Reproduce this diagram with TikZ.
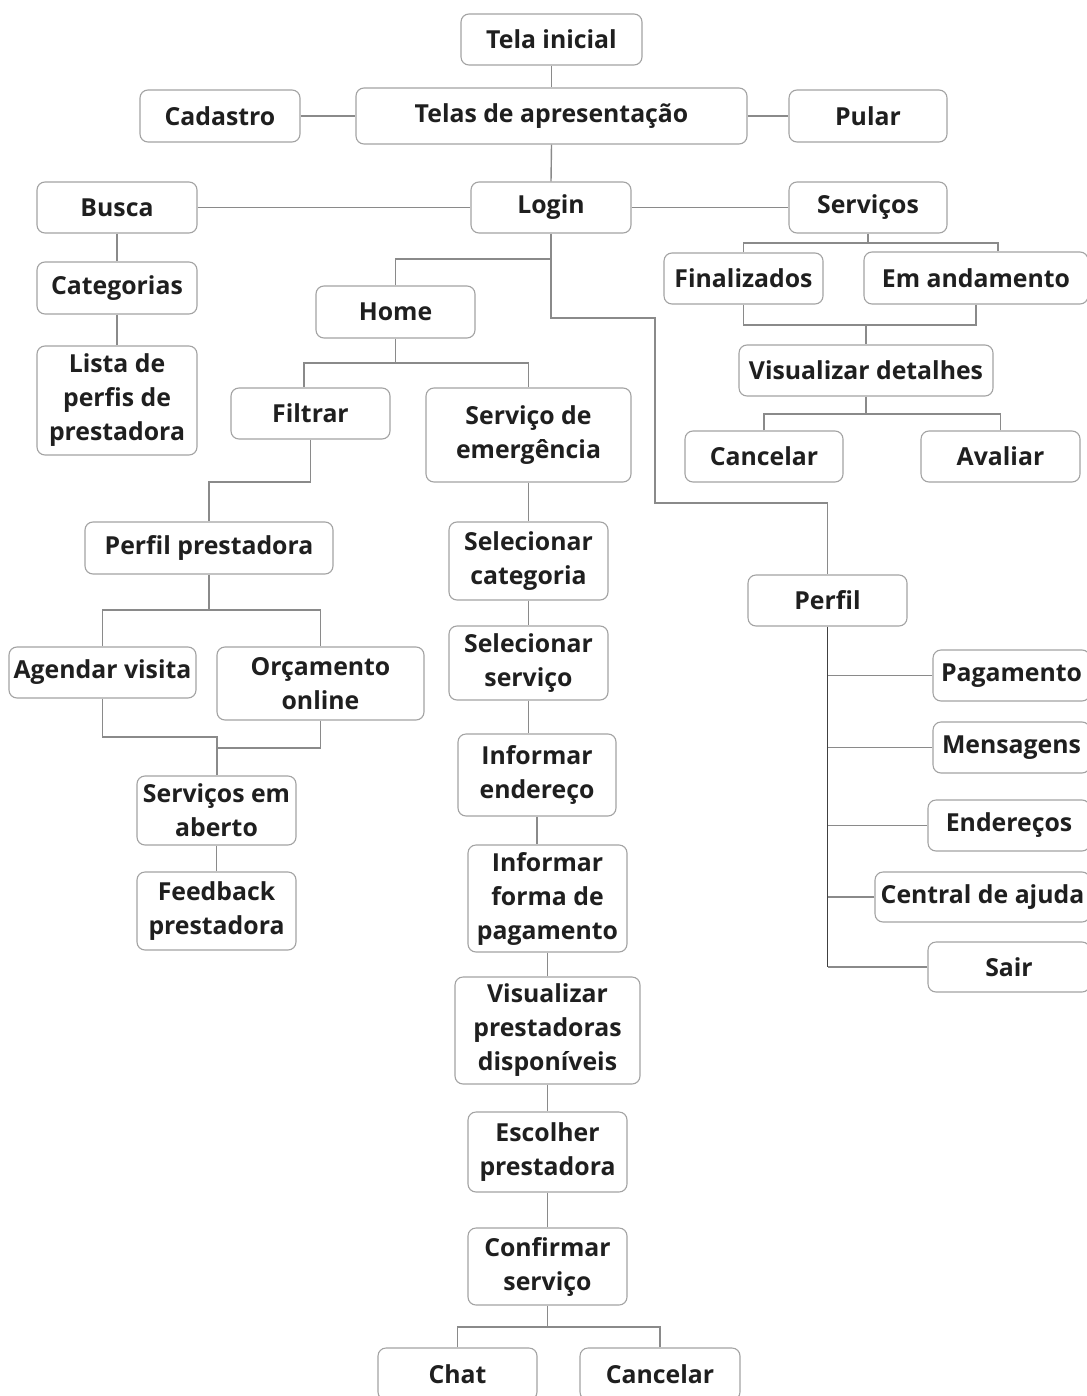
\documentclass[tikz,border=0pt]{standalone}
\usepackage{fontspec}
\setmainfont{Open Sans}
\definecolor{boxgray}{HTML}{A3A3A3}
\definecolor{linegray}{HTML}{8A8A8A}
\definecolor{txt}{HTML}{1F1F1F}
\tikzset{
  box/.style={draw=boxgray, line width=1.1pt, rounded corners=8pt, fill=white,
    align=center, inner sep=0pt, text=txt,
    font=\fontsize{24.8}{34}\selectfont\bfseries},
  conn/.style={draw=linegray, line width=1.4pt},
  darkconn/.style={draw=black!75, line width=1.4pt},
}
\newcommand\bx[6]{\node[box, minimum width=#4pt, minimum height=#5pt] (#1) at (#2,#3) {#6};}
\begin{document}
\begin{tikzpicture}[x=1pt,y=-1pt]
\useasboundingbox (0,0) rectangle (1086,1396);
\bx{tela}{551.5}{39.5}{181}{51}{Tela inicial}
\bx{cad}{220}{116}{160}{52}{Cadastro}
\bx{telas}{551.5}{116}{391}{56}{Telas de apresentação}
\bx{pular}{868}{116}{158}{52}{Pular}
\bx{busca}{117}{207.5}{160}{51}{Busca}
\bx{login}{551}{207.5}{160}{51}{Login}
\bx{servicos}{868}{207.5}{158}{51}{Serviços}
\bx{fin}{743.5}{278.5}{159}{51}{Finalizados}
\bx{anda}{976}{278}{224}{52}{Em andamento}
\bx{cat}{117}{288}{160}{52}{Categorias}
\bx{lista}{117}{400.5}{160}{109}{Lista de\\perfis de\\prestadora}
\bx{home}{395.5}{312}{159}{52}{Home}
\bx{filtrar}{310.5}{413.5}{159}{51}{Filtrar}
\bx{emerg}{528.5}{435}{205}{94}{Serviço de\\emergência}
\bx{visdet}{866}{370.5}{254}{51}{Visualizar detalhes}
\bx{cancelA}{764}{456.5}{158}{51}{Cancelar}
\bx{avaliar}{1000.5}{456.5}{159}{51}{Avaliar}
\bx{perfilp}{209}{548}{248}{52}{Perfil prestadora}
\bx{selcat}{528.5}{561}{159}{78}{Selecionar\\categoria}
\bx{selserv}{528.5}{663}{159}{74}{Selecionar\\serviço}
\bx{perfil}{827.5}{600.5}{159}{51}{Perfil}
\bx{agendar}{102.5}{672.5}{187}{51}{Agendar visita}
\bx{orc}{320.5}{683.5}{207}{73}{Orçamento\\online}
\bx{pag}{1011.5}{675.5}{157}{51}{Pagamento}
\bx{infend}{537}{775}{158}{82}{Informar\\endereço}
\bx{msg}{1011.5}{747.5}{157}{51}{Mensagens}
\bx{servab}{216.5}{810.5}{159}{69}{Serviços em\\aberto}
\bx{ends}{1009}{825.5}{162}{51}{Endereços}
\bx{infforma}{547.5}{898.5}{159}{107}{Informar\\forma de\\pagamento}
\bx{central}{982.5}{897}{215}{50}{Central de ajuda}
\bx{feedback}{216.5}{911}{159}{78}{Feedback\\prestadora}
\bx{sair}{1009}{967}{162}{50}{Sair}
\bx{vispres}{547.5}{1030.5}{185}{107}{Visualizar\\prestadoras\\disponíveis}
\bx{escolher}{547.5}{1152}{159}{80}{Escolher\\prestadora}
\bx{confirmar}{547.5}{1266.5}{159}{77}{Confirmar\\serviço}
\bx{chat}{457.5}{1374}{159}{52}{Chat}
\bx{cancelB}{660}{1374}{160}{52}{Cancelar}

% top
\draw[conn] (tela.south) -- (telas.north);
\draw[conn] (cad.east) -- (telas.west);
\draw[conn] (telas.east) -- (pular.west);
\draw[conn] (telas.south) -- (login.north);
\draw[conn] (busca.east) -- (login.west);
\draw[conn] (login.east) -- (servicos.west);
\draw[conn] (busca.south) -- (cat.north);
\draw[conn] (cat.south) -- (lista.north);
% servicos
\coordinate (j1) at (868,243);
\coordinate (j1r) at (998,243);
\draw[conn] (servicos.south) -- (j1);
\draw[conn] (fin.north) |- (j1);
\draw[conn] (j1) -- (j1r) -- (anda.north -| j1r);
\coordinate (j2) at (866,325);
\draw[conn] (fin.south) |- (j2);
\draw[conn] (anda.south) |- (j2);
\draw[conn] (j2) -- (visdet.north);
\coordinate (j3) at (866,414);
\draw[conn] (visdet.south) -- (j3);
\draw[conn] (cancelA.north) |- (j3);
\draw[conn] (avaliar.north) |- (j3);
% login down
\coordinate (j4) at (551,259);
\draw[conn] (login.south) -- (j4);
\draw[conn] (home.north) |- (j4);
\coordinate (p1) at (655,318);
\coordinate (p2) at (655,503);
\draw[conn] (j4) |- (p1) -- (p2) -| (perfil.north);
% home
\coordinate (j5) at (395.5,363);
\coordinate (fL) at (304,363);
\draw[conn] (home.south) -- (j5);
\draw[conn] (j5) -- (fL) -- (filtrar.north -| fL);
\draw[conn] (j5) -| (emerg.north);
% filtrar
\coordinate (j6) at (209,482);
\draw[conn] (filtrar.south) |- (j6) -- (perfilp.north);
\coordinate (j7) at (209,610);
\draw[conn] (perfilp.south) -- (j7);
\draw[conn] (agendar.north) |- (j7);
\draw[conn] (orc.north) |- (j7);
\coordinate (j8) at (217,737);
\coordinate (j9) at (217,748);
\draw[conn] (agendar.south) |- (j8) -- (servab.north -| j8);
\draw[conn] (orc.south) |- (j9);
\draw[conn] (servab.south) -- (feedback.north);
% emergencia chain
\draw[conn] (emerg.south) -- (selcat.north);
\draw[conn] (selcat.south) -- (selserv.north);
\draw[conn] (selserv.south) -- (selserv.south |- infend.north);
\draw[conn] (infend.south) -- (infend.south |- infforma.north);
\draw[conn] (infforma.south) -- (vispres.north);
\draw[conn] (vispres.south) -- (escolher.north);
\draw[conn] (escolher.south) -- (confirmar.north);
\coordinate (j10) at (547.5,1327);
\draw[conn] (confirmar.south) -- (j10);
\draw[conn] (chat.north) |- (j10);
\draw[conn] (cancelB.north) |- (j10);
% perfil
\coordinate (pb) at (827.5,967);
\draw[conn] (pag.west) -- (pag.west -| pb);
\draw[conn] (msg.west) -- (msg.west -| pb);
\draw[conn] (ends.west) -- (ends.west -| pb);
\draw[conn] (central.west) -- (central.west -| pb);
\draw[conn] (sair.west) -- (pb);
\draw[darkconn] (perfil.south) -- (pb);
\end{tikzpicture}
\end{document}
